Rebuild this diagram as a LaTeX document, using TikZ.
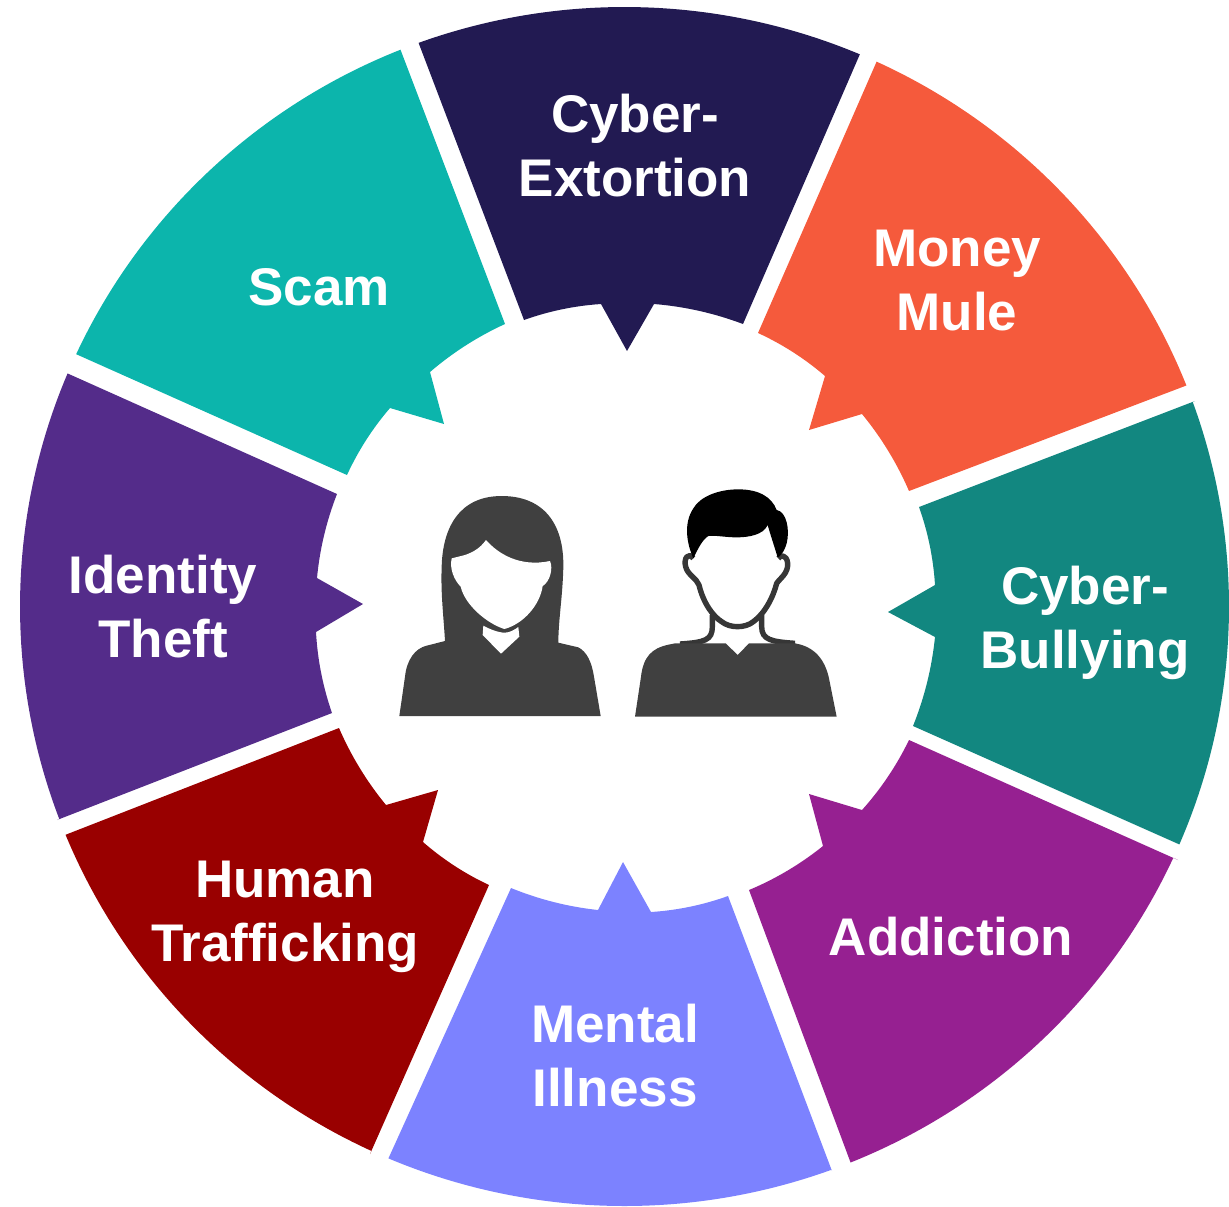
\documentclass[tikz,border=0pt]{standalone}
\usepackage{fontspec}
\setmainfont{Liberation Sans}
\usetikzlibrary{calc}
\definecolor{cNavy}{HTML}{221A52}
\definecolor{cOrange}{HTML}{F55A3C}
\definecolor{cTealDark}{HTML}{128780}
\definecolor{cMagenta}{HTML}{962091}
\definecolor{cPeri}{HTML}{7C82FF}
\definecolor{cRed}{HTML}{990000}
\definecolor{cPurple}{HTML}{542C8A}
\definecolor{cTeal}{HTML}{0CB5AC}
\definecolor{cBody}{HTML}{404040}
\tikzset{
  outerarc/.style={to path={let \p1=(\tikztostart),\p2=(\tikztotarget),
    \n1={atan2((\y1+303.25pt)/299.75,(\x1-312.25pt)/302.25)},
    \n2={atan2((\y2+303.25pt)/299.75,(\x2-312.25pt)/302.25)},
    \n3={\n2>\n1?\n2-360:\n2} in
    -- ({312.25pt+302.25pt*cos(\n1)},{-303.25pt+299.75pt*sin(\n1)})
    arc[start angle=\n1,end angle=\n3,x radius=302.25pt,y radius=299.75pt]}},
  innerarc/.style={bend right=8,looseness=0.86},
  label/.style={text=white,font=\fontsize{26.5pt}{32pt}\selectfont\bfseries,align=center,inner sep=0pt},
}
\begin{document}
\begin{tikzpicture}[x=0.5pt,y=-0.5pt]
\useasboundingbox (0,0) rectangle (1229,1206);
% wedges
\fill[cNavy] (419,44) to[outerarc] (860,54) -- (743,324) to[innerarc] (654,304) -- (627,351) -- (601,304) to[innerarc] (524,320) -- cycle;
\fill[cOrange] (876,63) to[outerarc] (1185,386) -- (909,491) to[innerarc] (862,414) -- (809,430) -- (825,376) to[innerarc] (758,333) -- cycle;
\fill[cTealDark] (1195,401) to[outerarc] (1183,846) -- (913,726) to[innerarc] (935,637) -- (888,612) -- (935,585) to[innerarc] (919,507) -- cycle;
\fill[cMagenta] (1178,860) to[outerarc] (852,1166) -- (749,890) to[innerarc] (823,846) -- (809,794) -- (862,810) to[innerarc] (909,740) -- cycle;
\fill[cPeri] (832,1171) to[outerarc] (389,1157) -- (511,888) to[innerarc] (598,910) -- (623,862) -- (651,912) to[innerarc] (728,896) -- cycle;
\fill[cRed] (370,1154) to[outerarc] (65,835) -- (339,728) to[innerarc] (386,805) -- (438,790) -- (423,842) to[innerarc] (489,885) -- cycle;
\fill[cPurple] (57,820) to[outerarc] (69,374) -- (337,494) to[innerarc] (317,578) -- (363,604) -- (316,632) to[innerarc] (332,713) -- cycle;
\fill[cTeal] (78,355) to[outerarc] (401,51) -- (505,324) to[innerarc] (430,372) -- (444,424) -- (390,408) to[innerarc] (347,475) -- cycle;
% labels
\node[label] (extortion) at (635,146) {Cyber-\\Extortion};
\node[label] (mule) at (957,281) {Money\\Mule};
\node[label] (bullying) at (1085,623) {Cyber-\\Bullying};
\node[label] (addiction) at (951,937) {Addiction};
\node[label] (illness) at (615,1056) {Mental\\Illness};
\node[label] (trafficking) at (285,917) {Human\\Trafficking};
\node[label] (identity) at (163,607) {Identity\\Theft};
\node[label] (scam) at (319,287) {Scam};
% woman
\begin{scope}[shift={(390,480)},scale=1/3]
\fill[cBody] (28,708) -- (45,590) .. controls (50,540) and (75,505) .. (110,497) -- (165,483)
  .. controls (160,400) and (152,340) .. (155,260) .. controls (158,140) and (210,48) .. (335,48)
  .. controls (460,48) and (522,130) .. (520,260) .. controls (518,350) and (505,420) .. (505,488)
  -- (565,502) .. controls (590,515) and (605,545) .. (612,590) -- (632,708) -- cycle;
\fill[white] (185,235) -- (205,230) .. controls (245,222) and (270,205) .. (288,180)
  .. controls (325,222) and (390,262) .. (480,243)
  .. controls (490,265) and (480,305) .. (458,318)
  .. controls (450,375) and (400,432) .. (343,447)
  .. controls (290,430) and (225,375) .. (212,320)
  .. controls (192,300) and (178,265) .. (185,235) -- cycle;
\fill[white] (280,437) .. controls (300,448) and (325,458) .. (345,458) .. controls (360,458) and (375,448) .. (385,441)
  -- (388,470) -- (333,521) -- (278,465) -- cycle;
\end{scope}
% man
\begin{scope}[shift={(625,480)},scale=1/3]
\draw[cBody!85!black,line width=2.7pt,line join=round,fill=white]
  (205,235) .. controls (190,215) and (175,235) .. (182,260)
  .. controls (188,285) and (215,295) .. (222,315)
  .. controls (235,370) and (265,410) .. (290,425)
  .. controls (315,445) and (360,445) .. (385,425)
  .. controls (420,400) and (445,350) .. (455,310)
  .. controls (465,295) and (490,280) .. (488,250)
  .. controls (485,222) and (465,225) .. (460,235);
\draw[cBody!85!black,line width=2.7pt] (165,492) .. controls (240,487) and (262,480) .. (262,440) -- (262,405);
\draw[cBody!85!black,line width=2.7pt] (410,405) -- (410,440) .. controls (410,480) and (440,485) .. (510,490);
\fill[black] (205,235) .. controls (185,190) and (175,130) .. (205,85)
  .. controls (225,50) and (280,28) .. (340,28)
  .. controls (400,28) and (440,50) .. (455,90)
  .. controls (485,95) and (495,150) .. (485,190)
  .. controls (478,215) and (465,230) .. (458,232)
  .. controls (445,190) and (435,160) .. (428,135)
  .. controls (415,165) and (370,172) .. (335,172)
  .. controls (300,172) and (270,165) .. (250,168)
  .. controls (230,180) and (215,215) .. (205,235) -- cycle;
\fill[cBody] (30,710) -- (48,590) .. controls (55,530) and (80,505) .. (130,494)
  -- (150,490) -- (302,490) -- (338,525) -- (372,490) -- (510,490)
  .. controls (570,500) and (600,540) .. (612,595) -- (635,710) -- cycle;
\end{scope}
\end{tikzpicture}
\end{document}
